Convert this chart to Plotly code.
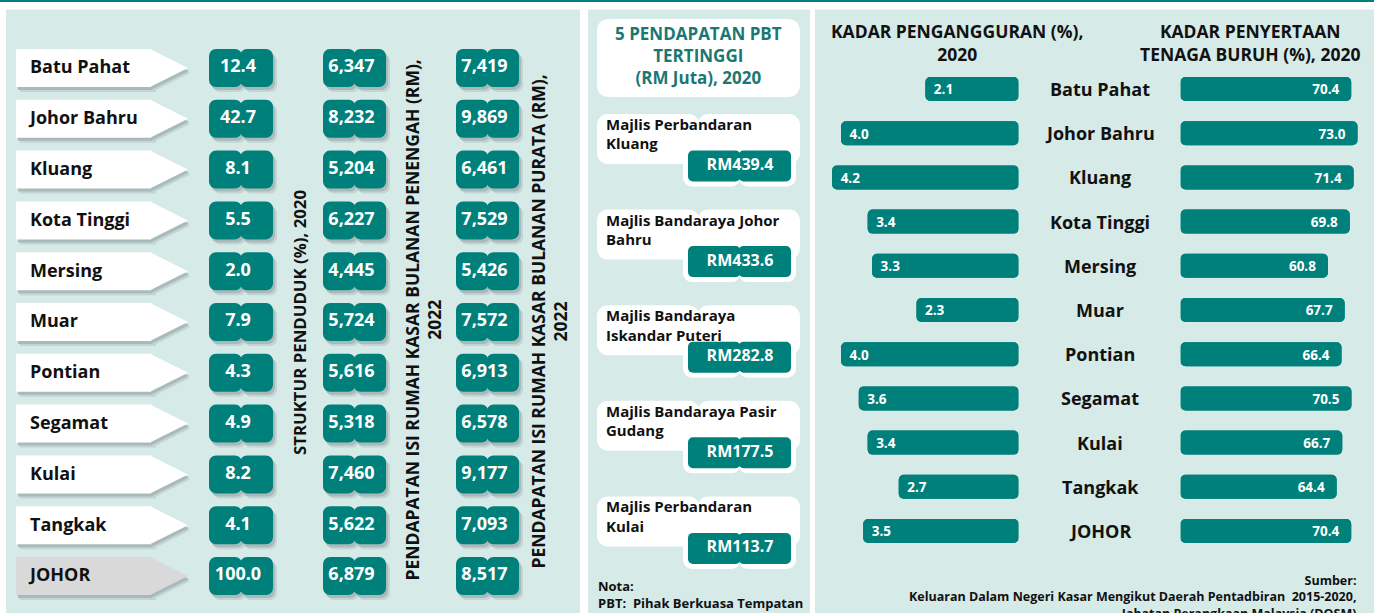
import plotly.graph_objects as go

# ---------------- DATA ----------------
DISTRICTS = ["Batu Pahat", "Johor Bahru", "Kluang", "Kota Tinggi", "Mersing", "Muar",
             "Pontian", "Segamat", "Kulai", "Tangkak", "JOHOR"]
POP_SHARE = [12.4, 42.7, 8.1, 5.5, 2.0, 7.9, 4.3, 4.9, 8.2, 4.1, 100.0]
MEDIAN_INCOME = [6347, 8232, 5204, 6227, 4445, 5724, 5616, 5318, 7460, 5622, 6879]
MEAN_INCOME = [7419, 9869, 6461, 7529, 5426, 7572, 6913, 6578, 9177, 7093, 8517]

PBT_LABELS = ["Majlis Perbandaran<br>Kluang", "Majlis Bandaraya Johor<br>Bahru",
              "Majlis Bandaraya<br>Iskandar Puteri", "Majlis Bandaraya Pasir<br>Gudang",
              "Majlis Perbandaran<br>Kulai"]
PBT_REVENUE = [439.4, 433.6, 282.8, 177.5, 113.7]

UNEMPLOYMENT = [2.1, 4.0, 4.2, 3.4, 3.3, 2.3, 4.0, 3.6, 3.4, 2.7, 3.5]
LFPR = [70.4, 73.0, 71.4, 69.8, 60.8, 67.7, 66.4, 70.5, 66.7, 64.4, 70.4]

# ---------------- STYLE / LAYOUT CONSTANTS ----------------
W, H = 1374, 613
FONT = "Open Sans"
TEAL = "#00807a"
TITLE_TEAL = "#1b7772"
BG = "#d6eae8"
SHADOW1 = "#c2d4d3"
SHADOW2 = "#a8bbba"
WHITE = "#ffffff"
GREY = "#d9d9d9"
BLACK = "#111111"

L_ROW_TOP, L_ROW_PX = 68.0, 50.8      # left panel row centres (px)
M_ROW_TOP, M_ROW_PX = 139.0, 95.6     # middle panel card centres (px)
R_ROW_TOP, R_ROW_PX = 89.0, 44.2      # right panel row centres (px)
UNEMP_PX_PER_UNIT = 44.4
LFPR_PX_PER_UNIT = 2.425
UNEMP_RIGHT = 1018.6
LFPR_LEFT = 1180.5


def px(xp):
    return xp / W


def py(yp):
    return 1 - yp / H


def ydomain(top_centre, step, n):
    top = top_centre - step / 2
    bot = top_centre + step * (n - 1) + step / 2
    return [py(bot), py(top)]


n = len(DISTRICTS)
rows = list(range(n))
m = len(PBT_LABELS)
mrows = list(range(m))

fig = go.Figure()


def rounded_box(xa, ya, ys, x0, w, height_units, color, radius):
    """Two half bars meeting in the middle so every corner is rounded."""
    c = x0 + w / 2.0
    k = len(ys)
    for sgn in (1, -1):
        fig.add_trace(go.Bar(
            orientation="h", y=ys, base=[c - sgn * 1.0] * k, x=[sgn * (w / 2.0 + 1.0)] * k,
            width=height_units, marker=dict(color=color, line=dict(width=0), cornerradius=radius),
            xaxis=xa, yaxis=ya, hoverinfo="skip", showlegend=False))


# ---------------- LEFT PANEL ----------------
def lshift(dy_px):
    return [r + dy_px / L_ROW_PX for r in rows]


label_colors = [GREY if d == "JOHOR" else WHITE for d in DISTRICTS]
BODY_X0, BODY_X1, TIP_X, LABEL_H = 16, 152, 188, 38
COLS = [(209, 64), (323, 63), (456, 63)]
BOX_H = 38

# shadows
for dx, dy, col in [(4, 5, SHADOW1), (2, 3, SHADOW2)]:
    fig.add_trace(go.Bar(orientation="h", y=lshift(dy), base=[BODY_X0 + dx] * n,
                         x=[BODY_X1 - BODY_X0] * n, width=LABEL_H / L_ROW_PX,
                         marker=dict(color=col, line=dict(width=0)),
                         xaxis="x", yaxis="y", hoverinfo="skip", showlegend=False))
    fig.add_trace(go.Scatter(x=[TIP_X + dx / 2] * n, y=lshift(dy), mode="markers",
                             marker=dict(symbol="arrow-right", size=LABEL_H, color=col,
                                         line=dict(width=0)),
                             xaxis="x", yaxis="y", hoverinfo="skip", showlegend=False))
    for x0, w in COLS:
        rounded_box("x", "y", lshift(dy), x0 + dx, w, BOX_H / L_ROW_PX, col, 7)

# arrow labels
fig.add_trace(go.Bar(orientation="h", y=rows, base=[BODY_X0] * n, x=[BODY_X1 - BODY_X0] * n,
                     width=LABEL_H / L_ROW_PX, marker=dict(color=label_colors, line=dict(width=0)),
                     xaxis="x", yaxis="y", hoverinfo="skip", showlegend=False))
fig.add_trace(go.Scatter(x=[TIP_X] * n, y=rows, mode="markers",
                         marker=dict(symbol="arrow-right", size=LABEL_H, color=label_colors,
                                     line=dict(width=0)),
                         xaxis="x", yaxis="y", hoverinfo="skip", showlegend=False))
fig.add_trace(go.Scatter(x=[30] * n, y=lshift(1), mode="text", text=DISTRICTS,
                         textposition="middle right",
                         textfont=dict(family=FONT, size=18, color=BLACK, weight=700),
                         xaxis="x", yaxis="y", hoverinfo="skip", showlegend=False))

col_texts = [[f"{v:.1f}" for v in POP_SHARE],
             [f"{v:,}" for v in MEDIAN_INCOME],
             [f"{v:,}" for v in MEAN_INCOME]]
for (x0, w), texts in zip(COLS, col_texts):
    rounded_box("x", "y", rows, x0, w, BOX_H / L_ROW_PX, TEAL, 7)
    fig.add_trace(go.Scatter(x=[x0 + w / 2 - 3] * n, y=rows, mode="text", text=texts,
                             textposition="middle center",
                             textfont=dict(family=FONT, size=18, color=WHITE, weight=700),
                             xaxis="x", yaxis="y", hoverinfo="skip", showlegend=False))

# ---------------- MIDDLE PANEL ----------------
def mshift(dy_px):
    return [r + dy_px / M_ROW_PX for r in mrows]


TEAL_DY = 27
rounded_box("x2", "y2", mrows, 597, 203, 50 / M_ROW_PX, WHITE, 11)
rounded_box("x2", "y2", mshift(TEAL_DY), 683, 113, 41 / M_ROW_PX, WHITE, 9)
rounded_box("x2", "y2", mshift(TEAL_DY), 688, 103, 31 / M_ROW_PX, TEAL, 5)
fig.add_trace(go.Scatter(x=[606] * m, y=mshift(-3), mode="text", text=PBT_LABELS,
                         textposition="middle right",
                         textfont=dict(family=FONT, size=15, color=BLACK, weight=700),
                         xaxis="x2", yaxis="y2", hoverinfo="skip", showlegend=False))
fig.add_trace(go.Scatter(x=[740] * m, y=mshift(TEAL_DY), mode="text",
                         text=[f"RM{v:.1f}" for v in PBT_REVENUE],
                         textposition="middle center",
                         textfont=dict(family=FONT, size=16, color=WHITE, weight=700),
                         xaxis="x2", yaxis="y2", hoverinfo="skip", showlegend=False))

# ---------------- RIGHT PANEL ----------------
RB_H = 24 / R_ROW_PX
fig.add_trace(go.Bar(orientation="h", y=rows, base=UNEMPLOYMENT, x=[-v for v in UNEMPLOYMENT],
                     width=RB_H, marker=dict(color=TEAL, line=dict(width=0), cornerradius=5),
                     xaxis="x3", yaxis="y3", hoverinfo="skip", showlegend=False))
fig.add_trace(go.Bar(orientation="h", y=rows, base=[0] * n, x=UNEMPLOYMENT,
                     width=RB_H, marker=dict(color=TEAL, line=dict(width=0), cornerradius=5),
                     text=[f"\u00a0{v:.1f}" for v in UNEMPLOYMENT], textposition="inside",
                     insidetextanchor="end", textangle=0, constraintext="none",
                     textfont=dict(family=FONT, size=15, color=WHITE, weight=700),
                     xaxis="x3", yaxis="y3", hoverinfo="skip", showlegend=False))
fig.add_trace(go.Bar(orientation="h", y=rows, base=LFPR, x=[-v for v in LFPR],
                     width=RB_H, marker=dict(color=TEAL, line=dict(width=0), cornerradius=5),
                     xaxis="x4", yaxis="y3", hoverinfo="skip", showlegend=False))
fig.add_trace(go.Bar(orientation="h", y=rows, base=[0] * n, x=LFPR,
                     width=RB_H, marker=dict(color=TEAL, line=dict(width=0), cornerradius=5),
                     text=[f"{v:.1f}\u00a0\u00a0" for v in LFPR], textposition="inside",
                     insidetextanchor="end", textangle=0, constraintext="none",
                     textfont=dict(family=FONT, size=15, color=WHITE, weight=700),
                     xaxis="x4", yaxis="y3", hoverinfo="skip", showlegend=False))

# ---------------- SHAPES (panel backgrounds, title card) ----------------
shapes = [dict(type="rect", xref="paper", yref="paper", x0=0, x1=1, y0=py(2), y1=1,
               fillcolor=TEAL, line=dict(width=0), layer="below")]
for a, b in [(6, 580), (588, 810), (815, 1374)]:
    shapes.append(dict(type="rect", xref="paper", yref="paper", x0=px(a), x1=px(b),
                       y0=0, y1=py(9.5), fillcolor=BG, line=dict(width=0), layer="below"))


def rounded_path(x0, y0, x1, y1, r):
    X = px
    Y = py
    return (f"M {X(x0 + r)},{Y(y0)} L {X(x1 - r)},{Y(y0)} Q {X(x1)},{Y(y0)} {X(x1)},{Y(y0 + r)} "
            f"L {X(x1)},{Y(y1 - r)} Q {X(x1)},{Y(y1)} {X(x1 - r)},{Y(y1)} "
            f"L {X(x0 + r)},{Y(y1)} Q {X(x0)},{Y(y1)} {X(x0)},{Y(y1 - r)} "
            f"L {X(x0)},{Y(y0 + r)} Q {X(x0)},{Y(y0)} {X(x0 + r)},{Y(y0)} Z")


shapes.append(dict(type="path", xref="paper", yref="paper", path=rounded_path(597, 19, 800, 97, 13),
                   fillcolor=WHITE, line=dict(width=0), layer="below"))

# ---------------- ANNOTATIONS ----------------
def bold(size, color=BLACK):
    return dict(family=FONT, size=size, color=color, weight=700)


def note(x, y, text, size, xref="paper", color=BLACK, align="center", xanchor="center",
         angle=0):
    return dict(x=px(x) if xref == "paper" else x, y=py(y), xref=xref, yref="paper",
                text=text, showarrow=False, font=bold(size, color), align=align,
                xanchor=xanchor, yanchor="middle", textangle=angle)


ann = [
    note(299, 323, "STRUKTUR PENDUDUK (%), 2020", 16.8, angle=-90),
    note(422.5, 320, "PENDAPATAN ISI RUMAH KASAR BULANAN PENENGAH (RM),<br>2022", 17.5, angle=-90),
    note(548.5, 322, "PENDAPATAN ISI RUMAH KASAR BULANAN PURATA (RM),<br>2022", 17.5, angle=-90),
    note(698.5, 56, "5 PENDAPATAN PBT<br>TERTINGGI<br>(RM Juta), 2020", 17, color=TITLE_TEAL),
    note(596, 594, "Nota:<br>PBT:  Pihak Berkuasa Tempatan", 13, align="left", xanchor="left"),
    note(957, 42, "KADAR PENGANGGURAN (%),<br>2020", 17.5),
    note(1250, 42, "KADAR PENYERTAAN<br>TENAGA BURUH (%), 2020", 17.5),
    note(1358, 597, "Sumber:<br>Keluaran Dalam Negeri Kasar Mengikut Daerah Pentadbiran  2015-2020,<br>"
                    "Jabatan Perangkaan Malaysia (DOSM)", 12.5, align="right", xanchor="right"),
]
for i, d in enumerate(DISTRICTS):
    ann.append(dict(x=px(1100), y=rows[i], xref="paper", yref="y3", text=d, showarrow=False,
                    font=bold(18), xanchor="center", yanchor="middle"))

hidden = dict(visible=False, fixedrange=True)
fig.update_layout(
    width=W, height=H, autosize=False,
    margin=dict(l=0, r=0, t=0, b=0, pad=0),
    paper_bgcolor=WHITE, plot_bgcolor="rgba(0,0,0,0)",
    barmode="overlay", showlegend=False,
    font=dict(family=FONT),
    shapes=shapes, annotations=ann,
    xaxis=dict(domain=[0, px(580)], range=[0, 580], **hidden),
    yaxis=dict(domain=ydomain(L_ROW_TOP, L_ROW_PX, n), range=[n - 0.5, -0.5], **hidden),
    xaxis2=dict(domain=[px(588), px(810)], range=[588, 810], anchor="y2", **hidden),
    yaxis2=dict(domain=ydomain(M_ROW_TOP, M_ROW_PX, m), range=[m - 0.5, -0.5], anchor="x2", **hidden),
    xaxis3=dict(domain=[px(820), px(UNEMP_RIGHT)], range=[(UNEMP_RIGHT - 820) / UNEMP_PX_PER_UNIT, 0],
                anchor="y3", **hidden),
    xaxis4=dict(domain=[px(LFPR_LEFT), 1], range=[0, (W - LFPR_LEFT) / LFPR_PX_PER_UNIT],
                anchor="y3", **hidden),
    yaxis3=dict(domain=ydomain(R_ROW_TOP, R_ROW_PX, n), range=[n - 0.5, -0.5], anchor="x3", **hidden),
)

fig.write_html("out.html", config=dict(displayModeBar=False),
               post_script="document.body.style.margin='0';")
